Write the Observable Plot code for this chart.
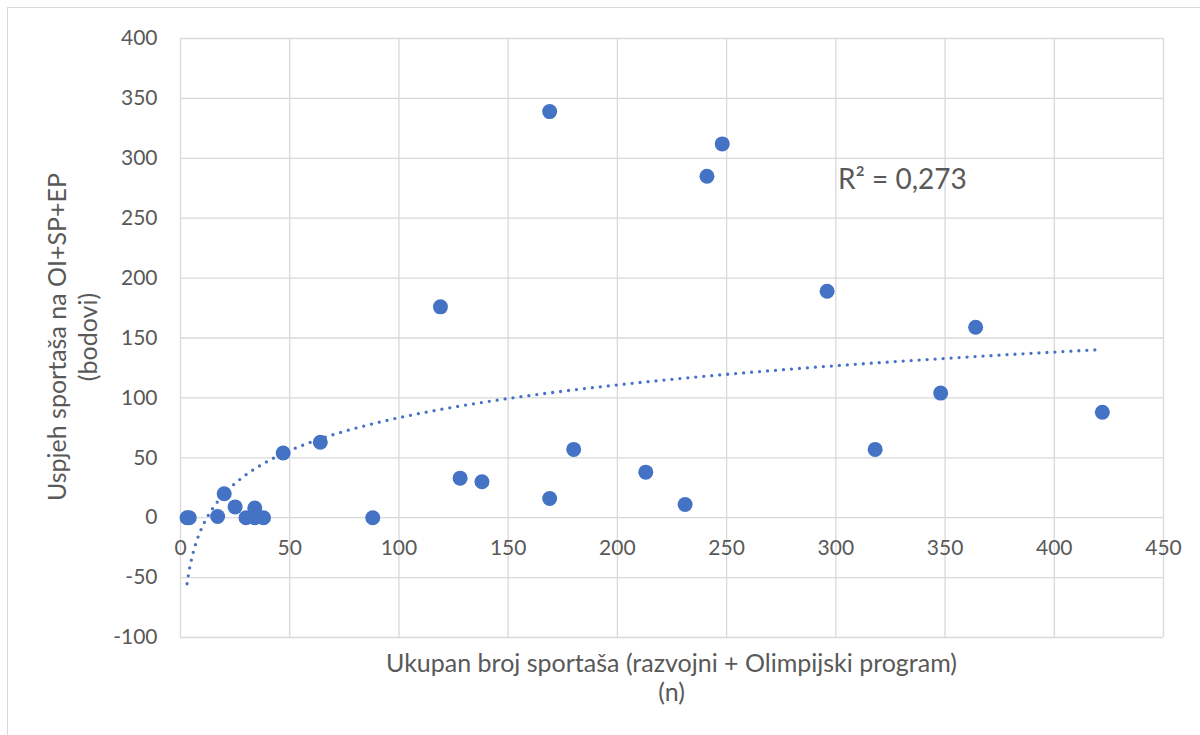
<!DOCTYPE html>
<html>
<head>
<meta charset="utf-8">
<script src="https://cdn.jsdelivr.net/npm/d3@7"></script>
<script src="https://cdn.jsdelivr.net/npm/@observablehq/plot@0.6"></script>
<style>
  html, body { margin: 0; padding: 0; background: #fff; }
  #wrap { position: relative; width: 1200px; height: 735px; overflow: hidden; font-family: Lato, "Open Sans", sans-serif; color: #595959; }
  #border { position: absolute; left: 7px; top: 7px; width: 1400px; height: 1000px; border: 1.3px solid #d9d9d9; box-sizing: border-box; }
  #chart { position: absolute; left: 0; top: 0; }
  #xtitle { position: absolute; left: 180px; width: 983px; top: 648px; text-align: center; font-size: 25px; line-height: 29px; white-space: nowrap; }
  #ytitle { position: absolute; width: 700px; height: 62px; left: -278px; top: 306px; text-align: center; font-size: 25px; line-height: 31px; white-space: nowrap; transform: rotate(-90deg); transform-origin: 350px 31px; }
</style>
</head>
<body>
<div id="wrap">
  <div id="border"></div>
  <div id="chart"></div>
  <div id="xtitle">Ukupan broj sportaša (razvojni + Olimpijski program)<br>(n)</div>
  <div id="ytitle">Uspjeh sportaša na OI+SP+EP<br>(bodovi)</div>
</div>
<script>
// Data
const athletes = [3, 4, 17, 20, 25, 30, 34, 34, 38, 47, 64, 88, 119, 128, 138, 169, 169, 180, 213, 231, 241, 248, 296, 318, 348, 364, 422];
const points   = [0, 0, 1, 20, 9, 0, 8, 0, 0, 54, 63, 0, 176, 33, 30, 339, 16, 57, 38, 11, 285, 312, 189, 57, 104, 159, 88];
const xTicks = [0, 50, 100, 150, 200, 250, 300, 350, 400, 450];
const yTicks = [-100, -50, 0, 50, 100, 150, 200, 250, 300, 350, 400];
const r2Text = "R² = 0,273";

const data = athletes.map((x, i) => ({x, y: points[i]}));

// Logarithmic trendline (least squares on ln x), as Excel does
const L = athletes.map(Math.log);
const mL = d3.mean(L), mY = d3.mean(points);
const slope = d3.sum(L.map((l, i) => (l - mL) * (points[i] - mY))) / d3.sum(L.map(l => (l - mL) ** 2));
const intercept = mY - slope * mL;
const [xMin, xMax] = d3.extent(athletes);
const trend = d3.range(0, 1001).map(i => {
  const x = xMin + (xMax - xMin) * i / 1000;
  return {x, y: slope * Math.log(x) + intercept};
});

const blue = "#4472C4";
const grid = "#d9d9d9";
const txt = "#595959";

const chart = Plot.plot({
  width: 1200,
  height: 735,
  marginLeft: 180,
  marginRight: 37,
  marginTop: 38,
  marginBottom: 98,
  x: {domain: [0, 450], axis: null},
  y: {domain: [-100, 400], axis: null},
  style: {fontFamily: "Lato, 'Open Sans', sans-serif", color: txt, background: "transparent", overflow: "visible"},
  marks: [
    Plot.ruleX(xTicks, {stroke: grid, strokeWidth: 1.3}),
    Plot.ruleY(yTicks, {stroke: grid, strokeWidth: 1.3}),
    Plot.text(yTicks, {x: 0, y: d => d, text: d => String(d), textAnchor: "end", dx: -23, fontSize: 21, fill: txt}),
    Plot.text(xTicks, {x: d => d, y: 0, text: d => String(d), dy: 31, fontSize: 21, fill: txt}),
    Plot.dot(data, {x: "x", y: "y", r: 7.5, fill: blue, stroke: "none"}),
    Plot.line(trend, {x: "x", y: "y", stroke: blue, strokeWidth: 3.3, strokeDasharray: "0 8", strokeLinecap: "round"}),
    Plot.text([r2Text], {x: 301, y: 282, text: d => d, textAnchor: "start", fontSize: 28, fill: txt})
  ]
});
document.getElementById("chart").appendChild(chart);
</script>
</body>
</html>
